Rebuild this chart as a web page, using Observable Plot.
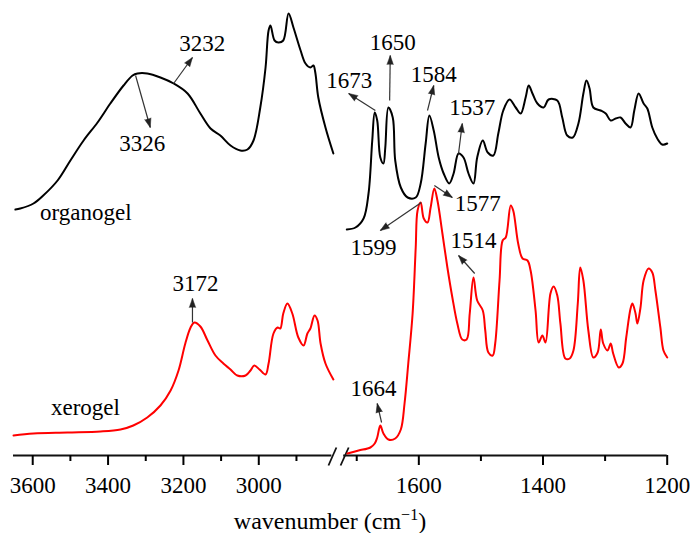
<!DOCTYPE html>
<html><head><meta charset="utf-8">
<script src="https://cdn.jsdelivr.net/npm/d3@7"></script>
<script src="https://cdn.jsdelivr.net/npm/@observablehq/plot@0.6"></script>
<style>html,body{margin:0;padding:0;background:#fff;}
#chart{position:relative;width:693px;height:533px;}
#chart svg{position:absolute;left:0;top:0;}</style>
</head><body><div id="chart"></div>
<script>
// ---- data (wavenumber in cm-1, intensity in arbitrary units) ----
const orgLeftWn  = [3646,3633,3598,3572,3534,3500,3465,3428,3394,3359,3335,3322,3296,3261,3226,3189,3155,3128,3102,3075,3049,3030,3014,2996,2982,2974,2969,2958,2948,2935,2921,2908,2889,2876,2863,2855,2850,2842,2823,2802];
const orgLeftInt = [246,247,252,260,275,295,315,333,352,370,380,382,382,378,372,362,342,327,320,310,305,306,315,348,388,425,430,415,413,415,442,428,405,392,388,390,383,358,328,302];

const orgRightWn  = [1716,1702,1689,1681,1675,1671,1667,1662,1657,1654,1649,1642,1638,1629,1618,1605,1597,1589,1583,1576,1568,1560,1551,1544,1536,1528,1520,1512,1506,1497,1489,1480,1472,1464,1454,1444,1436,1428,1423,1417,1409,1399,1391,1377,1369,1361,1352,1343,1335,1330,1325,1319,1307,1299,1291,1283,1275,1267,1259,1253,1246,1238,1232,1224,1216,1208,1200];
const orgRightInt = [226,228,237,262,315,343,335,298,292,308,348,338,295,268,258,258,272,312,340,325,298,282,272,282,302,298,282,272,298,315,303,300,322,345,356,348,342,358,370,362,352,348,356,355,338,320,318,332,362,375,367,348,345,342,335,337,338,332,328,345,362,352,347,328,317,311,312];

const xerLeftWn  = [3651,3598,3508,3420,3367,3333,3296,3261,3234,3213,3195,3181,3171,3155,3136,3115,3094,3075,3057,3035,3022,3012,2998,2982,2974,2961,2950,2943,2935,2924,2911,2895,2881,2871,2863,2852,2844,2836,2823,2802];
const xerLeftInt = [20,22,23,24,26,30,38,50,65,85,112,128,133,129,115,100,92,86,80,80,85,90,86,81,92,122,128,127,142,152,142,118,110,122,127,140,135,112,92,76];

const xerRightWn  = [1715,1697,1678,1671,1667,1662,1657,1649,1638,1629,1623,1617,1610,1605,1602,1597,1592,1586,1581,1575,1570,1562,1554,1546,1538,1530,1523,1518,1512,1506,1497,1493,1488,1481,1477,1470,1465,1460,1452,1448,1440,1433,1425,1420,1412,1407,1401,1396,1388,1383,1377,1372,1364,1357,1351,1344,1340,1335,1327,1319,1312,1307,1303,1296,1291,1287,1278,1272,1266,1259,1256,1251,1248,1243,1238,1230,1224,1219,1211,1206,1200];
const xerRightInt = [2,5,8,12,18,30,22,16,17,26,52,92,142,208,245,253,237,233,248,267,255,222,188,158,132,116,116,142,178,155,145,125,103,100,112,175,215,218,250,245,212,197,195,185,145,113,120,113,162,169,160,132,97,97,105,152,188,175,125,98,103,126,112,105,112,102,88,92,118,147,152,142,132,148,175,187,183,165,128,105,98];

// annotations
const annLabels = ["3232","3326","3172","1673","1650","1584","1537","1577","1599","1514","1664"];
const annFromWn = [3226,3327,3176,1670,1647,1586,1536,1575,1596,1510,1660];
const annFromV  = [372,380,133,345,355,345,302,270,253,182,33];
const annToWn   = [3176,3288,3176,1713,1646,1576,1530,1546,1662,1536,1667];
const annToV    = [398,328,157,362,400,370,332,258,225,200,52];
const annTextWn = [3150,3309,3168,1712,1642,1576,1514,1505,1673,1512,1673];
const annTextV  = [412,312,172,375,413,381,348,252,208,215,67];

const seriesNames = ["organogel","xerogel"];
const seriesLabelWn = [3459,3460];
const seriesLabelV = [243,48];

const majorTicks = [3600,3400,3200,3000,1600,1400,1200];
const minorTicks = [3500,3300,3100,2900,1700,1500,1300];

// ---- broken axis: two panels, each with its own linear x scale ----
const leftDomain = [3651, 2790], leftRange = [13, 337.4];
const rightDomain = [1730, 1200], rightRange = [337.6, 666.7];
const yDomain = [0, 455], yRange = [455, 0];
const splitWn = 2300;

function rowsOf(wn, val) { return wn.map((w, i) => ({wn: w, v: val[i]})); }
const ann = annLabels.map((label, i) => ({label, fx: annFromWn[i], fy: annFromV[i], tx: annToWn[i], ty: annToV[i], lx: annTextWn[i], ly: annTextV[i]}));
const seriesLabels = seriesNames.map((n, i) => ({n, wn: seriesLabelWn[i], v: seriesLabelV[i]}));

const font = '"Liberation Serif", "Times New Roman", serif';

function panel(domain, range, org, xer, axisX1, axisX2, slash, isLeft) {
  const xs = d3.scaleLinear().domain(domain).range(range);
  const ys = d3.scaleLinear().domain(yDomain).range(yRange);
  const inside = w => isLeft ? w > splitWn : w < splitWn;
  const a = ann.filter(d => inside(d.tx)).map(d => ({...d,
    angle: Math.atan2(xs(d.tx) - xs(d.fx), -(ys(d.ty) - ys(d.fy))) * 180 / Math.PI}));
  return Plot.plot({
    width: 693, height: 533,
    marginTop: 0, marginBottom: 78, marginLeft: 0, marginRight: 0,
    style: {fontFamily: font, fontSize: "23px", background: "transparent", color: "#000"},
    x: {domain, range},
    y: {domain: yDomain, range: yRange, axis: null},
    marks: [
      Plot.ruleY([0], {x1: axisX1, x2: axisX2, stroke: "#111", strokeWidth: 2}),
      Plot.link([slash], {x1: "a", x2: "b", y1: -10, y2: 8, stroke: "#111", strokeWidth: 1.8}),
      Plot.axisX(majorTicks.filter(inside), {tickSize: 10, tickPadding: 11, strokeWidth: 2, fontSize: 23, label: null, tickFormat: d => String(d)}),
      Plot.axisX(minorTicks.filter(inside), {tickSize: 6, strokeWidth: 2, label: null, tickFormat: () => ""}),
      Plot.line(org, {x: "wn", y: "v", stroke: "#000", strokeWidth: 2, curve: "catmull-rom"}),
      Plot.line(xer, {x: "wn", y: "v", stroke: "#ff0000", strokeWidth: 2, curve: "catmull-rom"}),
      Plot.link(a, {x1: "fx", y1: "fy", x2: "tx", y2: "ty", stroke: "#333", strokeWidth: 1.2}),
      Plot.vector(a, {x: "tx", y: "ty", rotate: "angle", length: 9, r: 3.2, shape: "spike", anchor: "end", fill: "#222", stroke: "#222", strokeWidth: 0.5}),
      Plot.text(a, {x: "lx", y: "ly", text: "label", fontSize: 23, fill: "#000"}),
      Plot.text(seriesLabels.filter(d => inside(d.wn)), {x: "wn", y: "v", text: "n", fontSize: 23, fill: "#000"})
    ]
  });
}

const left = panel(leftDomain, leftRange, rowsOf(orgLeftWn, orgLeftInt), rowsOf(xerLeftWn, xerLeftInt),
                   leftDomain[0], 2806, {a: 2815, b: 2794}, true);
const right = panel(rightDomain, rightRange, rowsOf(orgRightWn, orgRightInt), rowsOf(xerRightWn, xerRightInt),
                    1721, rightDomain[1], {a: 1726, b: 1713}, false);

// axis title with a real superscript
const t = document.createElementNS("http://www.w3.org/2000/svg", "text");
t.setAttribute("x", 330); t.setAttribute("y", 529);
t.setAttribute("text-anchor", "middle");
t.setAttribute("font-family", font); t.setAttribute("font-size", "24");
t.setAttribute("fill", "#000");
t.innerHTML = 'wavenumber (cm<tspan dy="-9" font-size="16">\u22121</tspan><tspan dy="9">)</tspan>';
right.appendChild(t);
const host = document.getElementById("chart");
host.appendChild(left);
host.appendChild(right);
</script>
</body></html>
